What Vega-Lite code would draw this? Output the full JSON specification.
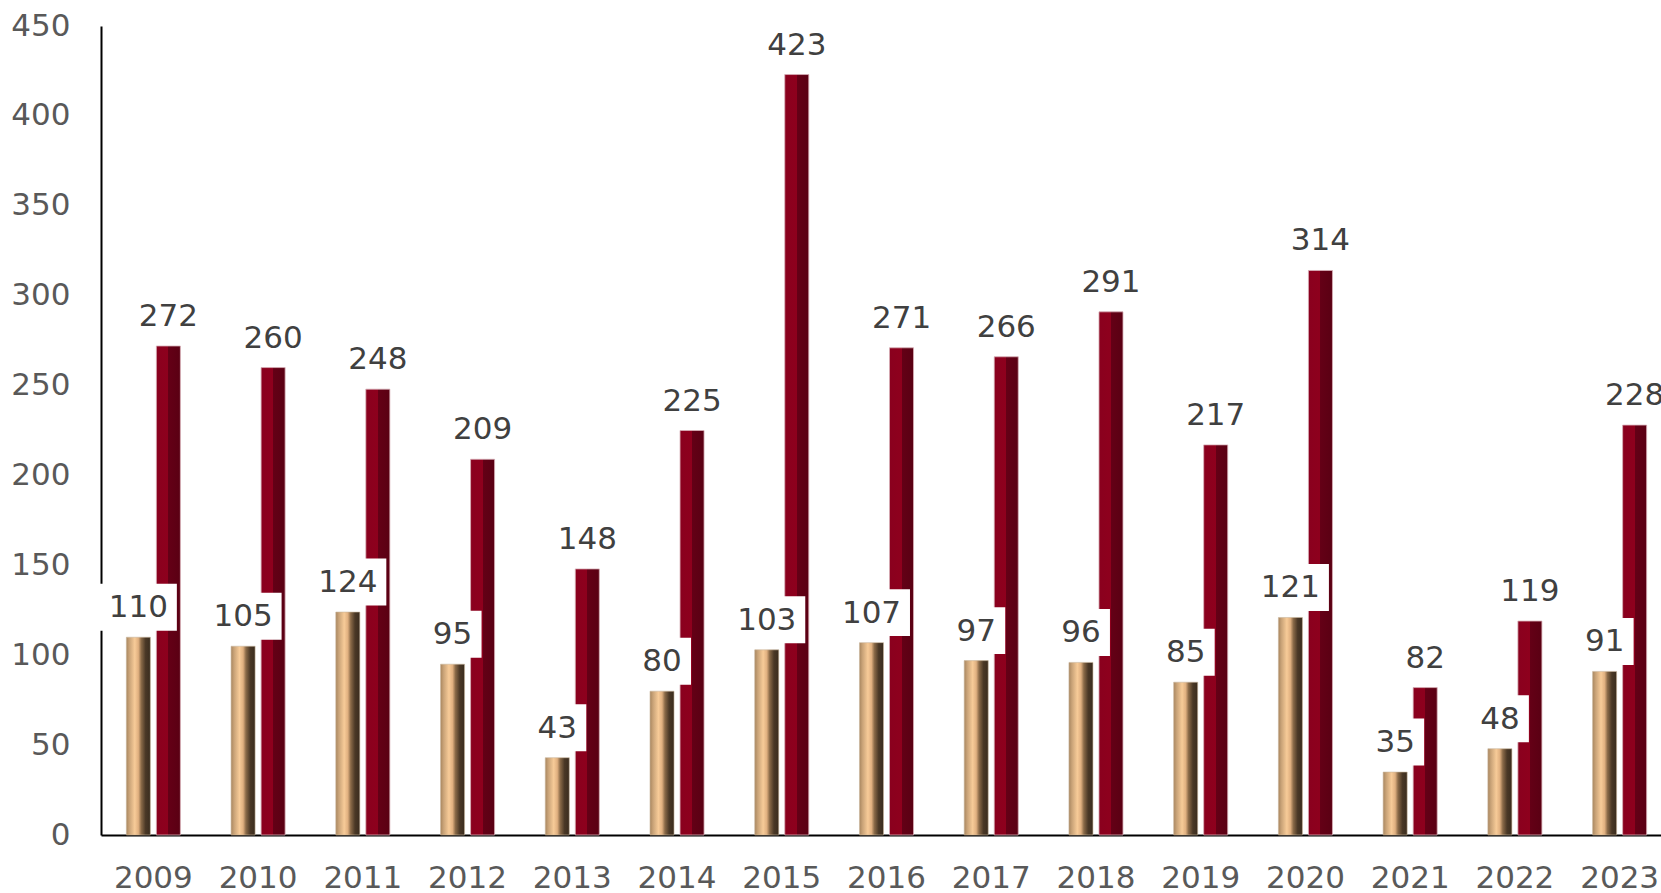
{
  "$schema": "https://vega.github.io/schema/vega-lite/v6.json",
  "autosize": "none",
  "width": 1560,
  "height": 809,
  "padding": {"left": 101, "top": 26, "right": 0, "bottom": 58},
  "background": "white",
  "config": {
    "view": {"stroke": null},
    "font": "DejaVu Sans"
  },
  "data": {
    "values": [
      {"year": "2009", "series": "Serie 1", "value": 110},
      {"year": "2009", "series": "Serie 2", "value": 272},
      {"year": "2010", "series": "Serie 1", "value": 105},
      {"year": "2010", "series": "Serie 2", "value": 260},
      {"year": "2011", "series": "Serie 1", "value": 124},
      {"year": "2011", "series": "Serie 2", "value": 248},
      {"year": "2012", "series": "Serie 1", "value": 95},
      {"year": "2012", "series": "Serie 2", "value": 209},
      {"year": "2013", "series": "Serie 1", "value": 43},
      {"year": "2013", "series": "Serie 2", "value": 148},
      {"year": "2014", "series": "Serie 1", "value": 80},
      {"year": "2014", "series": "Serie 2", "value": 225},
      {"year": "2015", "series": "Serie 1", "value": 103},
      {"year": "2015", "series": "Serie 2", "value": 423},
      {"year": "2016", "series": "Serie 1", "value": 107},
      {"year": "2016", "series": "Serie 2", "value": 271},
      {"year": "2017", "series": "Serie 1", "value": 97},
      {"year": "2017", "series": "Serie 2", "value": 266},
      {"year": "2018", "series": "Serie 1", "value": 96},
      {"year": "2018", "series": "Serie 2", "value": 291},
      {"year": "2019", "series": "Serie 1", "value": 85},
      {"year": "2019", "series": "Serie 2", "value": 217},
      {"year": "2020", "series": "Serie 1", "value": 121},
      {"year": "2020", "series": "Serie 2", "value": 314},
      {"year": "2021", "series": "Serie 1", "value": 35},
      {"year": "2021", "series": "Serie 2", "value": 82},
      {"year": "2022", "series": "Serie 1", "value": 48},
      {"year": "2022", "series": "Serie 2", "value": 119},
      {"year": "2023", "series": "Serie 1", "value": 91},
      {"year": "2023", "series": "Serie 2", "value": 228}
    ]
  },
  "encoding": {
    "x": {
      "field": "year",
      "type": "nominal",
      "scale": {"range": [0, 1571], "paddingInner": 0.484, "paddingOuter": 0.242},
      "axis": {
        "title": null,
        "labelAngle": 0,
        "labelFontSize": 31,
        "labelColor": "#595959",
        "labelPadding": 28,
        "ticks": false,
        "tickSize": 0,
        "domainColor": "#000000",
        "domainWidth": 2,
        "labelFont": "DejaVu Sans"
      }
    },
    "xOffset": {
      "field": "series",
      "type": "nominal",
      "scale": {"paddingInner": 0.2, "paddingOuter": 0}
    },
    "y": {
      "field": "value",
      "type": "quantitative",
      "scale": {"domain": [0, 450], "nice": false},
      "axis": {
        "title": null,
        "values": [0, 50, 100, 150, 200, 250, 300, 350, 400, 450],
        "grid": false,
        "ticks": false,
        "tickSize": 0,
        "labelFontSize": 31,
        "labelColor": "#595959",
        "labelPadding": 31,
        "domainColor": "#000000",
        "domainWidth": 2,
        "labelFont": "DejaVu Sans"
      }
    }
  },
  "layer": [
    {
      "transform": [{"filter": "datum.series === 'Serie 1'"}],
      "mark": {
        "type": "bar",
        "stroke": "#c9b59c",
        "strokeWidth": 0.6,
        "color": {
          "gradient": "linear",
          "x1": 0, "y1": 0, "x2": 1, "y2": 0,
          "stops": [
            {"offset": 0, "color": "#a8865f"},
            {"offset": 0.12, "color": "#c8a277"},
            {"offset": 0.35, "color": "#f7cb98"},
            {"offset": 0.5, "color": "#e0b080"},
            {"offset": 0.62, "color": "#8a6a48"},
            {"offset": 0.8, "color": "#4a3826"},
            {"offset": 1, "color": "#3a2c1e"}
          ]
        }
      }
    },
    {
      "transform": [{"filter": "datum.series === 'Serie 2'"}],
      "mark": {
        "type": "bar",
        "stroke": "#d8b0b8",
        "strokeWidth": 0.8,
        "color": {
          "gradient": "linear",
          "x1": 0, "y1": 0, "x2": 1, "y2": 0,
          "stops": [
            {"offset": 0, "color": "#8a001e"},
            {"offset": 0.5, "color": "#8e001d"},
            {"offset": 0.5, "color": "#640016"},
            {"offset": 1, "color": "#5a0013"}
          ]
        }
      }
    },
    {
      "transform": [
        {"filter": "datum.series === 'Serie 1'"},
        {"calculate": "length(toString(datum.value))", "as": "digits"}
      ],
      "mark": {"type": "point", "filled": true, "opacity": 1, "fill": "white", "strokeWidth": 0, "yOffset": -30},
      "encoding": {
        "shape": {
          "field": "digits",
          "type": "ordinal",
          "scale": {"domain": [2, 3], "range": ["M-1,-0.81H1V0.81H-1Z", "M-1,-0.61H1V0.61H-1Z"]},
          "legend": null
        },
        "size": {
          "field": "digits",
          "type": "ordinal",
          "scale": {"domain": [2, 3], "range": [3364, 5929]},
          "legend": null
        }
      }
    },
    {
      "mark": {
        "type": "text",
        "dy": -29,
        "baseline": "middle",
        "align": "center",
        "fontSize": 31,
        "font": "DejaVu Sans",
        "color": "#404040"
      },
      "encoding": {
        "text": {"field": "value", "type": "quantitative"}
      }
    }
  ]
}
